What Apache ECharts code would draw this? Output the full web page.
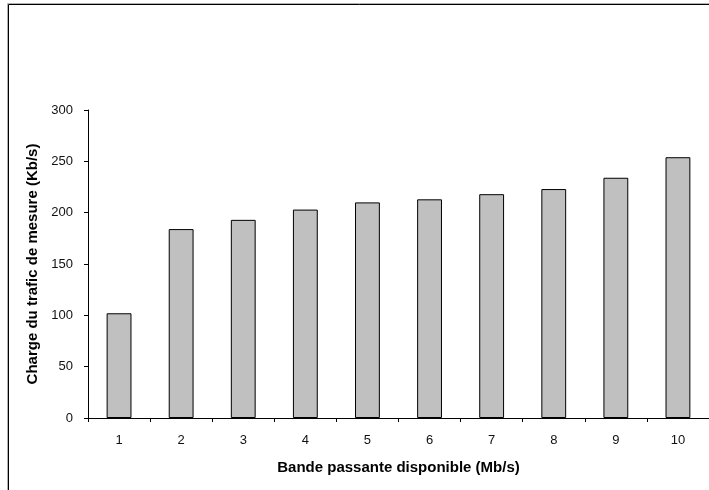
<!DOCTYPE html>
<html>
<head>
<meta charset="utf-8">
<script src="https://cdn.jsdelivr.net/npm/echarts@6/dist/echarts.min.js"></script>
<style>
html,body{margin:0;padding:0;background:#fff;}
#c{width:709px;height:490px;}
</style>
</head>
<body>
<div id="c"></div>
<script>
const categories = ['1','2','3','4','5','6','7','8','9','10'];
const values = [102, 184, 193, 203, 210, 213, 218, 223, 234, 254];
const yTicks = [0, 50, 100, 150, 200, 250, 300];
const xTitle = 'Bande passante disponible (Mb/s)';
const yTitle = 'Charge du trafic de mesure (Kb/s)';

const chart = echarts.init(document.getElementById('c'), null, {renderer:'canvas'});
const font = "'Liberation Sans', Arial, sans-serif";
chart.setOption({
  animation:false,
  backgroundColor:'#fff',
  graphic:[
    {type:'rect', shape:{x:7.5,y:3.5,width:760,height:560}, style:{fill:'none',stroke:'#b0b0b0',lineWidth:1}, silent:true, z:-1},
    {type:'rect', shape:{x:8.5,y:4.5,width:760,height:560}, style:{fill:'none',stroke:'#000',lineWidth:1}, silent:true, z:-1}
  ],
  grid:{left:88, top:110, width:625, height:308, containLabel:false},
  xAxis:{
    type:'category', data:categories, boundaryGap:true,
    name:xTitle, nameLocation:'middle', nameGap:42,
    nameTextStyle:{fontFamily:font, fontSize:15, fontWeight:'bold', color:'#000'},
    axisLine:{lineStyle:{color:'#000',width:1}},
    axisTick:{show:true, length:4, inside:false, lineStyle:{color:'#000'}},
    axisLabel:{fontFamily:font, fontSize:13, color:'#111', margin:16}
  },
  yAxis:{
    type:'value', min:yTicks[0], max:yTicks[yTicks.length-1], interval:50,
    name:yTitle, nameLocation:'middle', nameGap:46,
    nameTextStyle:{fontFamily:font, fontSize:15, fontWeight:'bold', color:'#000'},
    axisLine:{show:true, lineStyle:{color:'#000',width:1}},
    axisTick:{show:true, length:4, lineStyle:{color:'#000'}},
    axisLabel:{fontFamily:font, fontSize:13, color:'#111', margin:15},
    splitLine:{show:false}
  },
  series:[{
    type:'bar', data:values, barWidth:'40%',
    itemStyle:{color:'#c0c0c0', borderColor:'#000', borderWidth:1}
  }]
});
</script>
</body>
</html>
